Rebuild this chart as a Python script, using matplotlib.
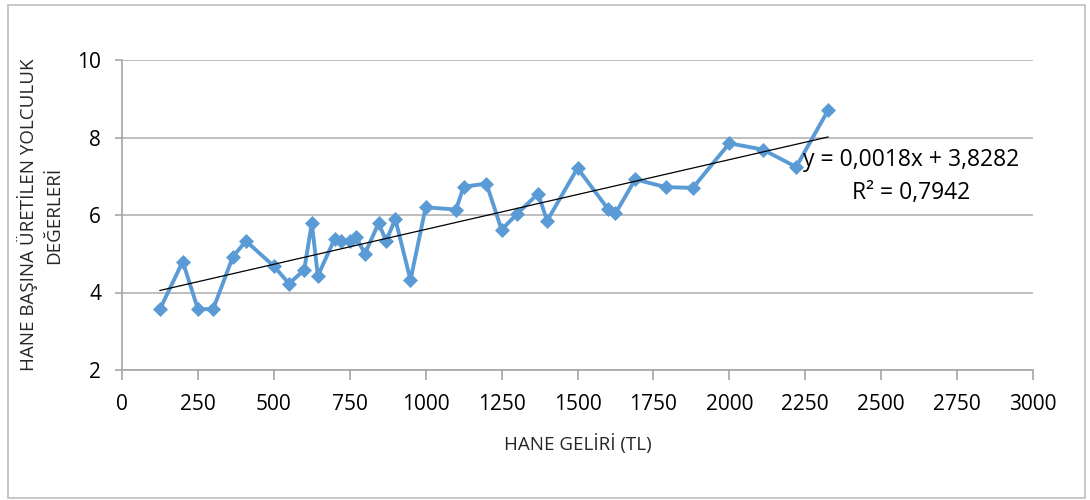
import matplotlib
matplotlib.use("Agg")
import matplotlib.pyplot as plt
import numpy as np
from matplotlib.patches import Rectangle

plt.rcParams['font.family'] = ['Open Sans', 'DejaVu Sans']

income = [125, 200, 250, 300, 365, 408, 500, 550, 600, 625, 645, 700, 720, 750, 770,
          800, 845, 870, 900, 950, 1000, 1100, 1125, 1200, 1250, 1300, 1370, 1400,
          1500, 1600, 1625, 1690, 1790, 1880, 2000, 2110, 2220, 2325]
trips = [3.57, 4.80, 3.57, 3.57, 4.92, 5.33, 4.68, 4.23, 4.58, 5.79, 4.43, 5.38, 5.32,
         5.33, 5.44, 5.00, 5.79, 5.33, 5.90, 4.32, 6.20, 6.14, 6.73, 6.81, 5.62, 6.02,
         6.55, 5.85, 7.21, 6.16, 6.04, 6.92, 6.72, 6.70, 7.85, 7.69, 7.24, 8.70]
slope = 0.0018
intercept = 3.8282
eq_text = "y = 0,0018x + 3,8282\nR² = 0,7942"
x_ticks = list(range(0, 3001, 250))
y_ticks = [2, 4, 6, 8, 10]
x_label = "HANE GELİRİ (TL)"
y_label = "HANE BAŞINA ÜRETİLEN YOLCULUK\nDEĞERLERİ"

fig = plt.figure(figsize=(10.9, 5.0), dpi=100)
ax = fig.add_axes([122/1090, 1-370/500, (1033-122)/1090, (370-60)/500])

axis_col = '#a6a6a6'
ax.set_xlim(0, 3000)
ax.set_ylim(2, 10)
ax.set_xticks(x_ticks)
ax.set_yticks(y_ticks)
ax.yaxis.grid(True, color='#b3b3b3', linewidth=1.2)
ax.set_axisbelow(True)
for s in ['top', 'right']:
    ax.spines[s].set_visible(False)
for s in ['left', 'bottom']:
    ax.spines[s].set_color(axis_col)
    ax.spines[s].set_linewidth(1.2)
ax.tick_params(axis='x', direction='out', length=7, width=1.2, color=axis_col,
               labelsize=15, pad=10)
ax.tick_params(axis='y', direction='out', length=5, width=1.2, color=axis_col,
               labelsize=15, pad=10)

ax.plot(income, trips, color='#5b9bd5', linewidth=2.8, marker='D', markersize=7.5,
        markeredgewidth=0.5, zorder=3)
xt = np.array([income[0], income[-1]])
ax.plot(xt, slope*xt + intercept, color='black', linewidth=0.9, zorder=4)

ax.text(2600, 7.0, eq_text, ha='center', va='center', fontsize=16.5,
        linespacing=1.5, zorder=5)

ax.set_xlabel(x_label, fontsize=13.5, color='#262626', labelpad=14)
ax.set_ylabel(y_label, fontsize=13.5, color='#262626', labelpad=10,
              linespacing=1.5)

fig.patches.append(Rectangle((8/1090, 2/500), (1085-8)/1090, (495-2)/500,
                             transform=fig.transFigure, fill=False,
                             edgecolor='#bfbfbf', linewidth=1.2))

fig.savefig("out.png", dpi=100)
